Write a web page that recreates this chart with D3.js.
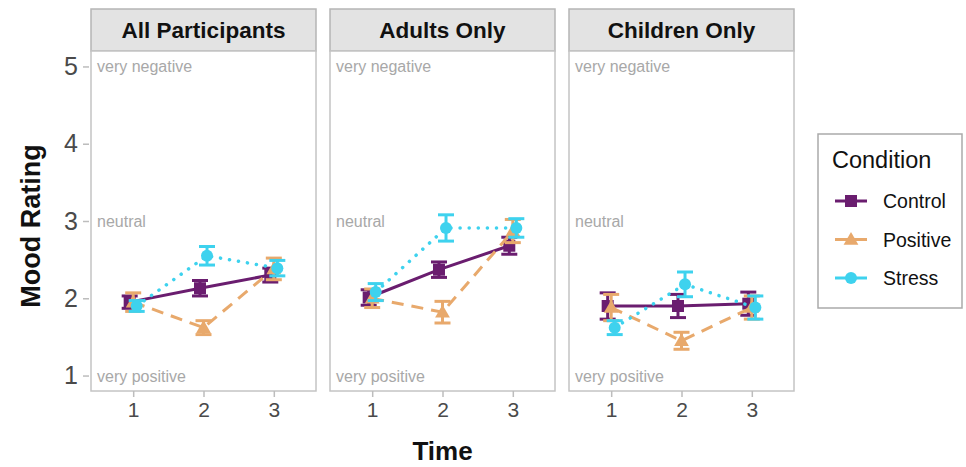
<!DOCTYPE html>
<html>
<head>
<meta charset="utf-8">
<script src="https://cdn.jsdelivr.net/npm/d3@7"></script>
<style>
  body { margin: 0; background: #fff; font-family: "Liberation Sans", Arial, sans-serif; }
</style>
</head>
<body>
<div id="chart"></div>
<script>
// Data
const panels = ['All Participants', 'Adults Only', 'Children Only'];
const times = [1, 2, 3];
const conditions = ['Control', 'Positive', 'Stress'];

// mean values per panel, per time
const controlMean = [[1.95, 2.13, 2.30], [2.01, 2.37, 2.68], [1.90, 1.90, 1.93]];
const controlErr = [[0.08, 0.10, 0.09], [0.10, 0.10, 0.11], [0.17, 0.15, 0.15]];
const positiveMean = [[1.95, 1.62, 2.38], [2.00, 1.82, 2.87], [1.88, 1.45, 1.88]];
const positiveErr = [[0.12, 0.09, 0.14], [0.12, 0.14, 0.15], [0.17, 0.11, 0.15]];
const stressMean = [[1.90, 2.55, 2.39], [2.08, 2.91, 2.91], [1.62, 2.18, 1.88]];
const stressErr = [[0.07, 0.12, 0.10], [0.11, 0.17, 0.12], [0.09, 0.16, 0.15]];

const yTicks = [1, 2, 3, 4, 5];
const annotations = [
    { y: 5, label: 'very negative' },
    { y: 3, label: 'neutral' },
    { y: 1, label: 'very positive' }
];

const width = 966, height = 467;
const panelLeft = [91, 330, 569];
const panelWidth = 225;
const stripTop = 9, panelTop = 51, panelBottom = 391;

const series = [
    { name: 'Control', means: controlMean, errs: controlErr, color: '#6a1d6f', dash: null, shape: 'square', dodge: -0.05 },
    { name: 'Positive', means: positiveMean, errs: positiveErr, color: '#e8a96c', dash: '12,8', shape: 'triangle', dodge: 0 },
    { name: 'Stress', means: stressMean, errs: stressErr, color: '#3ed2ee', dash: '0.1,9', shape: 'circle', dodge: 0.05 }
];

const svg = d3.select('#chart').append('svg')
    .attr('width', width)
    .attr('height', height);

const yScale = d3.scaleLinear()
    .domain([0.8, 5.2])
    .range([panelBottom, panelTop]);

function drawMarker(g, shape, x, y, color) {
    if (shape === 'square') {
        g.append('rect')
            .attr('x', x - 6).attr('y', y - 6)
            .attr('width', 12).attr('height', 12)
            .attr('fill', color);
    } else if (shape === 'triangle') {
        g.append('path')
            .attr('d', d3.symbol().type(d3.symbolTriangle).size(95)())
            .attr('transform', `translate(${x},${y + 1})`)
            .attr('fill', color);
    } else {
        g.append('circle')
            .attr('cx', x).attr('cy', y).attr('r', 6)
            .attr('fill', color);
    }
}

panels.forEach((title, p) => {
    const x0 = panelLeft[p];
    const xScale = d3.scaleLinear()
        .domain([0.4, 3.6])
        .range([x0, x0 + panelWidth]);

    // Strip
    svg.append('rect')
        .attr('x', x0).attr('y', stripTop)
        .attr('width', panelWidth).attr('height', panelTop - stripTop)
        .attr('fill', '#e3e3e3')
        .attr('stroke', '#b5b5b5')
        .attr('stroke-width', 1.5);
    svg.append('text')
        .attr('x', x0 + panelWidth / 2)
        .attr('y', 38)
        .attr('text-anchor', 'middle')
        .style('font-size', '22.5px')
        .style('font-weight', 'bold')
        .attr('fill', '#111')
        .text(title);

    // Panel box
    svg.append('rect')
        .attr('x', x0).attr('y', panelTop)
        .attr('width', panelWidth).attr('height', panelBottom - panelTop)
        .attr('fill', '#fff')
        .attr('stroke', '#c4c4c4')
        .attr('stroke-width', 1.5);

    // Annotations
    annotations.forEach(a => {
        svg.append('text')
            .attr('x', x0 + 6)
            .attr('y', yScale(a.y) + 6)
            .style('font-size', '16px')
            .attr('fill', '#a8a8a8')
            .text(a.label);
    });

    // X axis
    const xAxis = d3.axisBottom(xScale)
        .tickValues(times)
        .tickFormat(d3.format('d'))
        .tickSize(6)
        .tickPadding(5);
    const xg = svg.append('g')
        .attr('transform', `translate(0,${panelBottom})`)
        .call(xAxis);
    xg.select('.domain').remove();
    xg.selectAll('line').attr('stroke', '#bdbdbd').attr('stroke-width', 1.5);
    xg.selectAll('text')
        .style('font-size', '21px')
        .style('font-family', '"Liberation Sans", Arial, sans-serif')
        .attr('fill', '#4a4a4a');

    // Series
    series.forEach(s => {
        const pts = times.map((t, i) => ({
            x: xScale(t + s.dodge),
            y: yScale(s.means[p][i]),
            lo: yScale(s.means[p][i] - s.errs[p][i]),
            hi: yScale(s.means[p][i] + s.errs[p][i])
        }));
        const g = svg.append('g');

        // Error bars
        pts.forEach(d => {
            g.append('line')
                .attr('x1', d.x).attr('x2', d.x)
                .attr('y1', d.lo).attr('y2', d.hi)
                .attr('stroke', s.color).attr('stroke-width', 3);
            [d.lo, d.hi].forEach(yy => {
                g.append('line')
                    .attr('x1', d.x - 8).attr('x2', d.x + 8)
                    .attr('y1', yy).attr('y2', yy)
                    .attr('stroke', s.color).attr('stroke-width', 3);
            });
        });

        // Line
        const line = d3.line().x(d => d.x).y(d => d.y);
        g.append('path')
            .datum(pts)
            .attr('d', line)
            .attr('fill', 'none')
            .attr('stroke', s.color)
            .attr('stroke-width', s.shape === 'circle' ? 3.5 : 3)
            .attr('stroke-linecap', s.shape === 'circle' ? 'round' : 'butt')
            .attr('stroke-dasharray', s.dash);

        pts.forEach(d => drawMarker(g, s.shape, d.x, d.y, s.color));
    });
});

// Y axis
const yAxis = d3.axisLeft(yScale)
    .tickValues(yTicks)
    .tickFormat(d3.format('d'))
    .tickSize(6)
    .tickPadding(5);
const yg = svg.append('g')
    .attr('transform', `translate(${panelLeft[0] - 2},0)`)
    .call(yAxis);
yg.select('.domain').remove();
yg.selectAll('line').attr('stroke', '#bdbdbd').attr('stroke-width', 1.5);
yg.selectAll('text')
    .style('font-size', '25px')
    .style('font-family', '"Liberation Sans", Arial, sans-serif')
    .attr('fill', '#4a4a4a');

// Axis titles
svg.append('text')
    .attr('transform', `translate(40,${(panelTop + panelBottom) / 2 + 5}) rotate(-90)`)
    .attr('text-anchor', 'middle')
    .style('font-size', '27px')
    .style('font-weight', 'bold')
    .attr('fill', '#111')
    .text('Mood Rating');

svg.append('text')
    .attr('x', (panelLeft[0] + panelLeft[2] + panelWidth) / 2)
    .attr('y', 460)
    .attr('text-anchor', 'middle')
    .style('font-size', '26px')
    .style('font-weight', 'bold')
    .attr('fill', '#111')
    .text('Time');

// Legend
const legend = svg.append('g');
legend.append('rect')
    .attr('x', 818).attr('y', 134)
    .attr('width', 144).attr('height', 174)
    .attr('fill', '#fff')
    .attr('stroke', '#aaa')
    .attr('stroke-width', 1.5);
legend.append('text')
    .attr('x', 832).attr('y', 168)
    .style('font-size', '23.5px')
    .attr('fill', '#111')
    .text('Condition');

series.forEach((s, i) => {
    const ly = 201 + i * 38.5;
    legend.append('line')
        .attr('x1', 835).attr('x2', 867)
        .attr('y1', ly).attr('y2', ly)
        .attr('stroke', s.color).attr('stroke-width', 3);
    drawMarker(legend, s.shape, 851, ly, s.color);
    legend.append('text')
        .attr('x', 883).attr('y', ly + 7)
        .style('font-size', '19.5px')
        .attr('fill', '#111')
        .text(s.name);
});
</script>
</body>
</html>
